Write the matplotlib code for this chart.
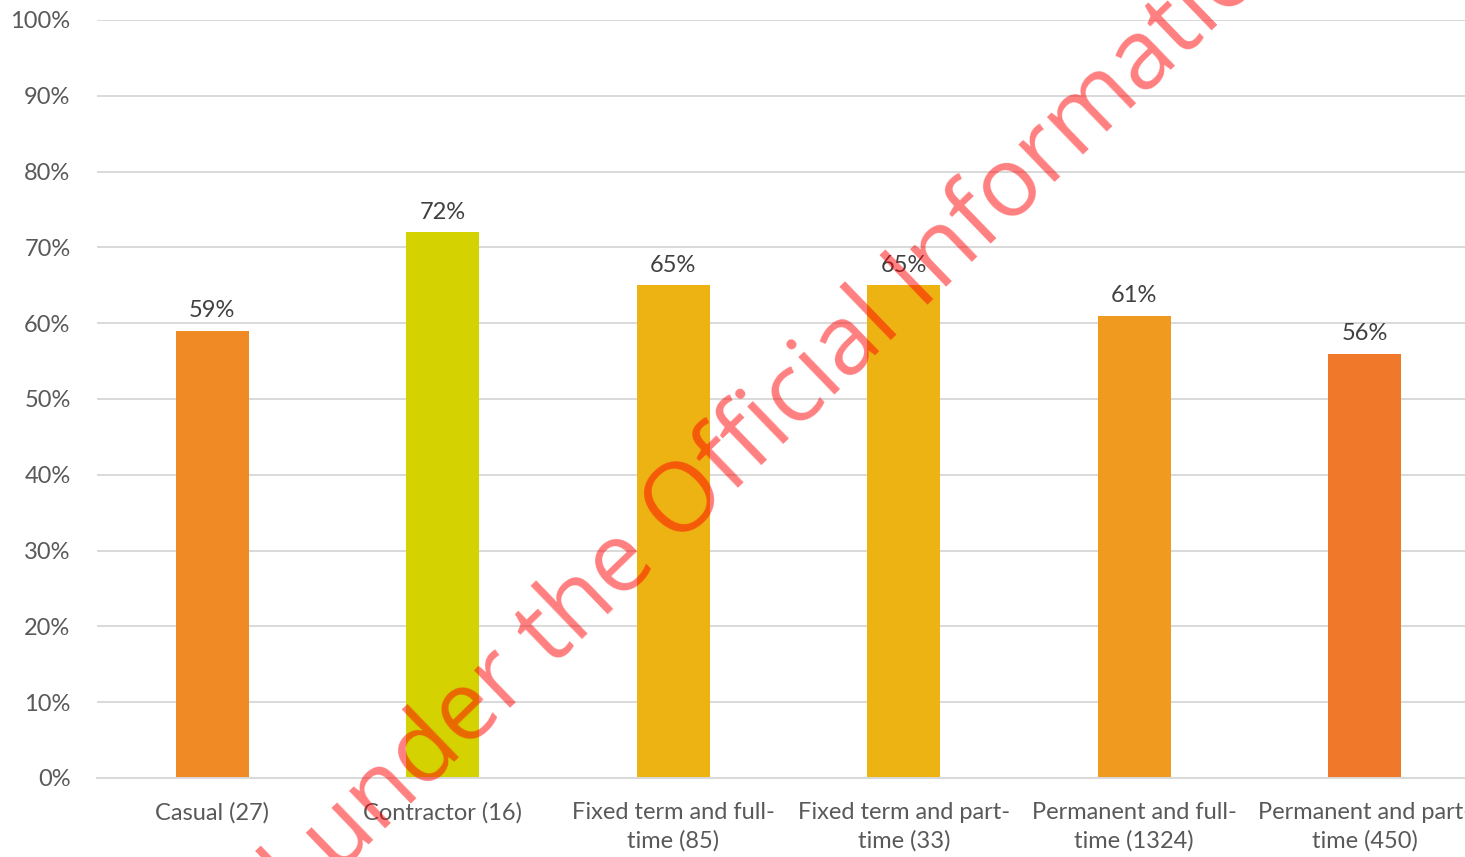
import numpy as np
import matplotlib.pyplot as plt
from matplotlib.ticker import PercentFormatter

plt.rcParams['font.family'] = ['Lato', 'DejaVu Sans']

categories = ["Casual (27)", "Contractor (16)", "Fixed term and full-\ntime (85)",
              "Fixed term and part-\ntime (33)", "Permanent and full-\ntime (1324)",
              "Permanent and part-\ntime (450)"]
values = [59, 72, 65, 65, 61, 56]
colors = ["#F08A24", "#D4D200", "#ECB313", "#ECB313", "#F09B1F", "#F0782B"]
yticks = np.arange(0, 101, 10)

W, H = 1465, 857
fig = plt.figure(figsize=(W / 100, H / 100), dpi=100)
# plot area runs past the right edge of the figure
ax = fig.add_axes([97 / W, 1 - 778 / H, 1383 / W, (778 - 20) / H])

x = np.arange(len(categories))
ax.bar(x, values, width=0.317, color=colors, zorder=2)
for xi, v in zip(x, values):
    ax.annotate(f"{v}%", (xi, v), xytext=(0, 7), textcoords="offset points",
                ha="center", va="bottom", fontsize=17, color="#404040")

ax.set_xlim(-0.5, len(categories) - 0.5)
ax.set_ylim(0, 100)
ax.set_yticks(yticks)
ax.yaxis.set_major_formatter(PercentFormatter(decimals=0))
ax.set_xticks(x)
ax.set_xticklabels(categories, fontsize=17, color="#595959", linespacing=1.4)
ax.tick_params(axis="y", labelsize=17, labelcolor="#595959", length=0, pad=19)
ax.tick_params(axis="x", length=0, pad=17)
ax.grid(axis="y", color="#D9D9D9", linewidth=1.4, zorder=0)
for s in ["top", "right", "left"]:
    ax.spines[s].set_visible(False)
ax.spines["bottom"].set_color("#D9D9D9")
ax.spines["bottom"].set_linewidth(1.4)

fig.text(710 / W, 1 - 480 / H, "Released under the Official Information Act",
         fontsize=70, color="red", alpha=0.5, rotation=44, rotation_mode="anchor",
         ha="center", va="center", family=["Open Sans", "DejaVu Sans"], zorder=10)

fig.savefig("out.png", dpi=100)
